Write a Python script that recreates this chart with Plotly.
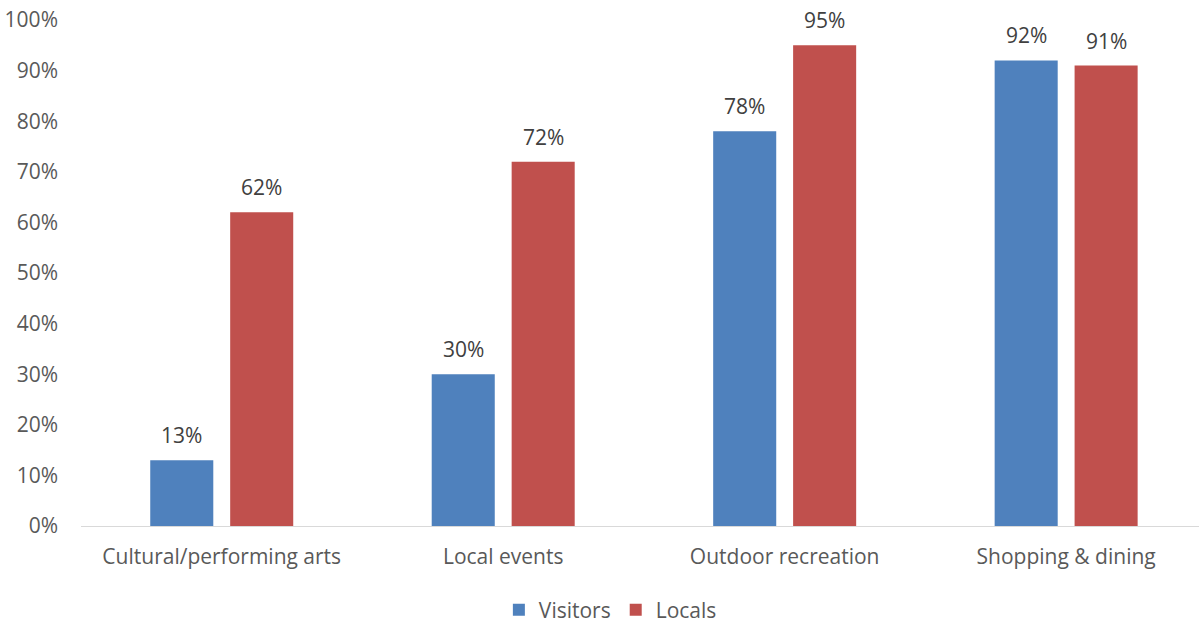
import plotly.graph_objects as go

# Share of respondents taking part in each activity type
categories = ["Cultural/performing arts", "Local events", "Outdoor recreation", "Shopping & dining"]
visitors = [13, 30, 78, 92]
locals_ = [62, 72, 95, 91]

BLUE = "#4F81BD"
RED = "#C0504D"
FONT = "'Open Sans', Lato, sans-serif"
FSIZE = 21

bar_w = 0.224
series = [
    ("Visitors", visitors, BLUE, -0.254),
    ("Locals", locals_, RED, 0.030),
]

fig = go.Figure()
annotations = []
for name, vals, color, off in series:
    fig.add_trace(go.Bar(
        name=name,
        x=categories,
        y=[v / 100 for v in vals],
        width=bar_w,
        offset=off,
        marker=dict(color=color, line=dict(width=0)),
    ))
    for i, v in enumerate(vals):
        annotations.append(dict(
            x=i + off + bar_w / 2, y=v / 100,
            xref="x", yref="y",
            text=f"{v}%", showarrow=False,
            yanchor="bottom", yshift=9,
            font=dict(family=FONT, size=FSIZE, color="#404040"),
        ))

fig.update_layout(
    width=1199, height=623,
    margin=dict(l=81, r=0, t=20, b=97, autoexpand=False),
    paper_bgcolor="white", plot_bgcolor="white",
    barmode="group",
    showlegend=True,
    legend=dict(
        orientation="h", x=0.4735, xanchor="center", y=-0.166, yanchor="middle",
        font=dict(family=FONT, size=FSIZE, color="#595959"),
        itemwidth=30, traceorder="normal",
    ),
    annotations=annotations,
)
fig.update_xaxes(
    type="category",
    range=[-0.5, 3.472],
    showline=True, linecolor="#D9D9D9", linewidth=1,
    showgrid=False, ticks="",
    ticklabelstandoff=12,
    tickfont=dict(family=FONT, size=FSIZE, color="#595959"),
)
fig.update_yaxes(
    range=[0, 1], dtick=0.1, tickformat=".0%",
    showgrid=False, zeroline=False, showline=False, ticks="",
    ticklabelstandoff=22,
    tickfont=dict(family=FONT, size=FSIZE, color="#595959"),
)

fig.write_html("out.html")
